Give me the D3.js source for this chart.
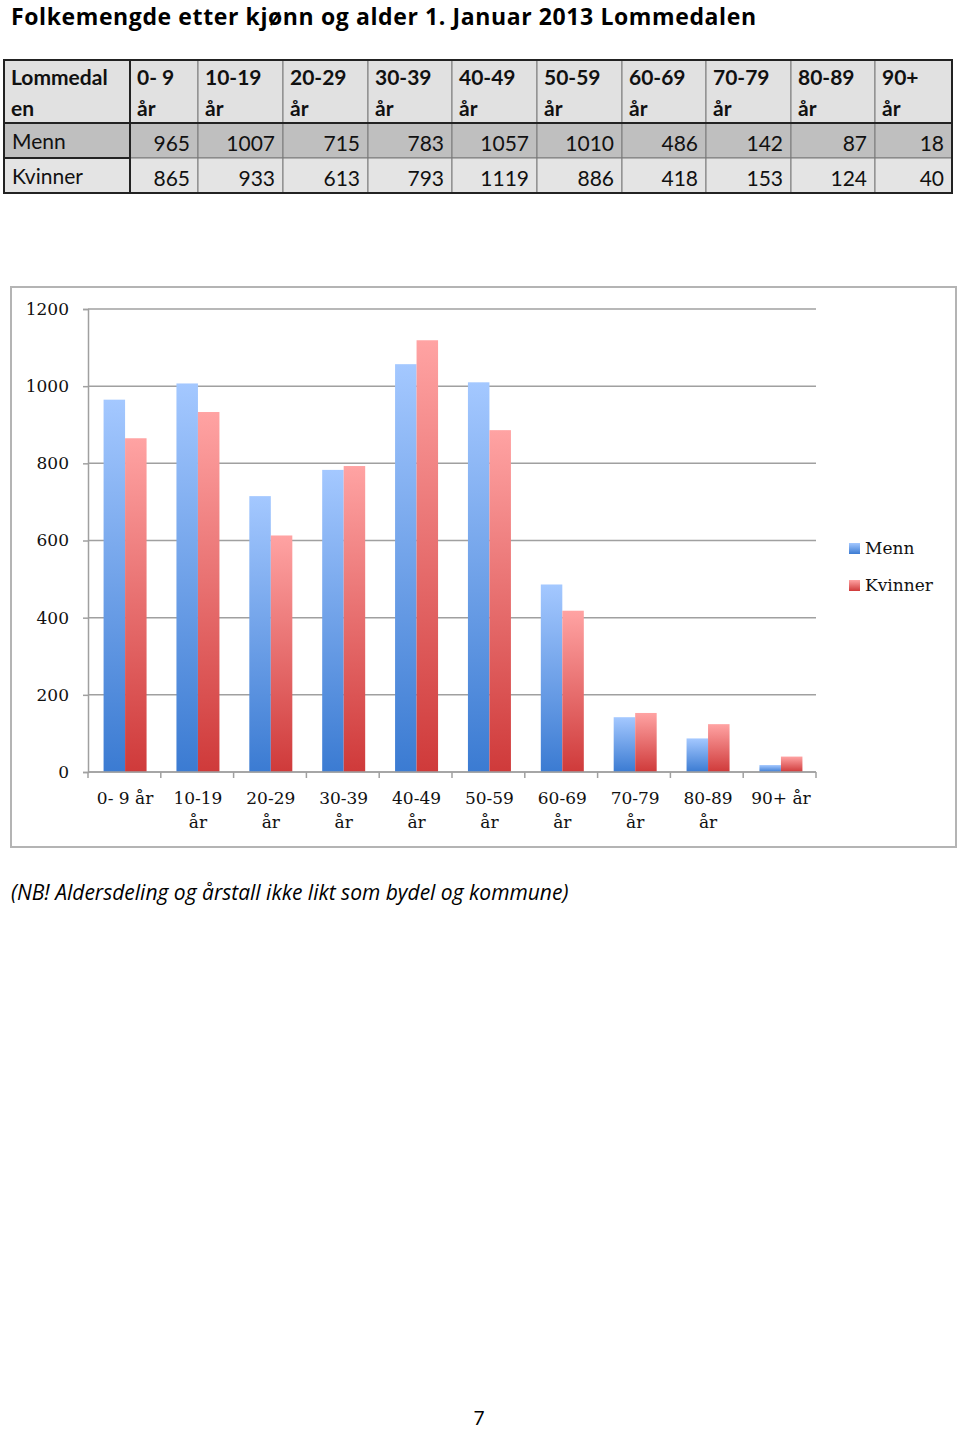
<!DOCTYPE html>
<html>
<head>
<meta charset="utf-8">
<title>Folkemengde Lommedalen</title>
<script src="https://cdnjs.cloudflare.com/ajax/libs/d3/7.8.5/d3.min.js"></script>
<style>
  body { margin: 0; background: #fff; }
  svg { display: block; }
</style>
</head>
<body>
<div id="chart"></div>
<script>
// data
const categories = ["0- 9 år", "10-19 år", "20-29 år", "30-39 år", "40-49 år", "50-59 år", "60-69 år", "70-79 år", "80-89 år", "90+ år"];
const xLabels = [["0- 9 år"], ["10-19", "år"], ["20-29", "år"], ["30-39", "år"], ["40-49", "år"], ["50-59", "år"], ["60-69", "år"], ["70-79", "år"], ["80-89", "år"], ["90+   år"]];
const headLabels = [["Lommedal", "en"], ["0- 9", "år"], ["10-19", "år"], ["20-29", "år"], ["30-39", "år"], ["40-49", "år"], ["50-59", "år"], ["60-69", "år"], ["70-79", "år"], ["80-89", "år"], ["90+", "år"]];
const menn = [965, 1007, 715, 783, 1057, 1010, 486, 142, 87, 18];
const kvinner = [865, 933, 613, 793, 1119, 886, 418, 153, 124, 40];
const yTicks = [0, 200, 400, 600, 800, 1000, 1200];
const seriesNames = ["Menn", "Kvinner"];

const W = 960, H = 1430;
const svg = d3.select("#chart").append("svg").attr("width", W).attr("height", H);
const sans = "Lato, 'Open Sans', sans-serif";
const wide = "'Open Sans', Lato, sans-serif";
const serif = "'DejaVu Serif', serif";

// title
svg.append("text").attr("x", 11).attr("y", 25)
  .attr("textLength", 745).attr("lengthAdjust", "spacing")
  .style("font-family", wide).style("font-size", "23px").style("font-weight", "bold")
  .text("Folkemengde etter kjønn og alder 1. Januar 2013 Lommedalen");

// ---- table ----
const colEdges = [4, 130, 198, 283, 368, 452, 537, 622, 706, 791, 875, 952];
const rowEdges = [60, 123, 158, 193];
const tbl = svg.append("g");
const rows = [
  { bg: "#e1e1e1", cells: headLabels, head: true },
  { bg: "#bfbfbf", cells: [["Menn"]].concat(menn.map(v => [String(v)])) },
  { bg: "#e4e4e4", cells: [["Kvinner"]].concat(kvinner.map(v => [String(v)])) }
];
rows.forEach((r, ri) => {
  const y0 = rowEdges[ri], y1 = rowEdges[ri + 1];
  r.cells.forEach((c, ci) => {
    const x0 = colEdges[ci], x1 = colEdges[ci + 1];
    tbl.append("rect").attr("x", x0).attr("y", y0).attr("width", x1 - x0).attr("height", y1 - y0)
      .attr("fill", r.bg).attr("stroke", "#7a7a7a").attr("stroke-width", 1);
    const t = tbl.append("text").style("font-family", sans).style("font-size", "21px")
      .style("font-weight", r.head ? "bold" : "normal").attr("fill", "#111");
    if (r.head) {
      c.forEach((line, li) => t.append("tspan").attr("x", x0 + 7).attr("y", y0 + 25 + li * 31).text(line));
    } else if (ci === 0) {
      t.attr("x", x0 + 8).attr("y", y0 + 26).text(c[0]);
    } else {
      t.attr("x", x1 - 8).attr("y", y0 + 28).attr("text-anchor", "end").text(c[0]);
    }
  });
});
// heavier borders
tbl.append("rect").attr("x", 4).attr("y", 60).attr("width", 948).attr("height", 133)
  .attr("fill", "none").attr("stroke", "#222").attr("stroke-width", 2);
tbl.append("rect").attr("x", 4).attr("y", 60).attr("width", 126).attr("height", 133)
  .attr("fill", "none").attr("stroke", "#222").attr("stroke-width", 2);
tbl.append("line").attr("x1", 4).attr("x2", 952).attr("y1", 123).attr("y2", 123)
  .attr("stroke", "#222").attr("stroke-width", 2);
tbl.append("line").attr("x1", 4).attr("x2", 130).attr("y1", 158).attr("y2", 158)
  .attr("stroke", "#222").attr("stroke-width", 2);

// ---- chart ----
svg.append("rect").attr("x", 11).attr("y", 287).attr("width", 945).attr("height", 560)
  .attr("fill", "#fff").attr("stroke", "#b4b4b4").attr("stroke-width", 2);

const defs = svg.append("defs");
const grads = [["gBlue", "#a4c8ff", "#3b7bd2"], ["gRed", "#ffa3a3", "#cf3a3a"]];
grads.forEach(([id, top, bot]) => {
  const g = defs.append("linearGradient").attr("id", id).attr("x1", 0).attr("y1", 0).attr("x2", 0).attr("y2", 1);
  g.append("stop").attr("offset", "0%").attr("stop-color", top);
  g.append("stop").attr("offset", "100%").attr("stop-color", bot);
});

const x = d3.scaleBand().domain(categories).range([88, 816]).paddingInner(0.41).paddingOuter(0.2);
const x1 = d3.scaleBand().domain(seriesNames).range([0, x.bandwidth()]);
const y = d3.scaleLinear().domain([0, 1200]).range([772, 309]);

const chart = svg.append("g");
chart.selectAll("line.grid").data(yTicks).join("line").attr("class", "grid")
  .attr("x1", 88).attr("x2", 816).attr("y1", d => y(d)).attr("y2", d => y(d))
  .attr("stroke", "#a0a0a0").attr("stroke-width", 1.5);

const groups = chart.selectAll("g.cat").data(categories).join("g").attr("class", "cat")
  .attr("transform", d => `translate(${x(d) + 1},0)`);
groups.append("rect").attr("x", x1("Menn")).attr("width", x1.bandwidth())
  .attr("y", (d, i) => y(menn[i])).attr("height", (d, i) => y(0) - y(menn[i]))
  .attr("fill", "url(#gBlue)");
groups.append("rect").attr("x", x1("Kvinner")).attr("width", x1.bandwidth())
  .attr("y", (d, i) => y(kvinner[i])).attr("height", (d, i) => y(0) - y(kvinner[i]))
  .attr("fill", "url(#gRed)");

// y axis
const yAxis = chart.append("g").attr("transform", "translate(88,0)")
  .call(d3.axisLeft(y).tickValues(yTicks).tickSize(5).tickPadding(14).tickFormat(d3.format("d")));
yAxis.select(".domain").attr("stroke", "#a0a0a0").attr("stroke-width", 1.5);
yAxis.selectAll(".tick line").attr("stroke", "#a0a0a0").attr("stroke-width", 1.5);
yAxis.selectAll("text").style("font-family", serif).style("font-size", "17px").attr("fill", "#111");

// x axis
const xTickPos = d3.range(categories.length + 1).map(i => 88 + i * (728 / categories.length));
chart.append("line").attr("x1", 88).attr("x2", 816).attr("y1", 772).attr("y2", 772)
  .attr("stroke", "#a0a0a0").attr("stroke-width", 1.5);
chart.selectAll("line.xt").data(xTickPos).join("line").attr("class", "xt")
  .attr("x1", d => d).attr("x2", d => d).attr("y1", 772).attr("y2", 778)
  .attr("stroke", "#a0a0a0").attr("stroke-width", 1.5);
const xl = chart.selectAll("text.xl").data(categories).join("text").attr("class", "xl")
  .attr("text-anchor", "middle").style("font-family", serif).style("font-size", "17px").attr("fill", "#111");
xl.each(function(d, i) {
  const cx = x(d) + x.bandwidth() / 2 + 1;
  xLabels[i].forEach((line, li) => {
    d3.select(this).append("tspan").attr("x", cx).attr("y", 804 + li * 24).text(line);
  });
});

// legend
const leg = chart.selectAll("g.leg").data(seriesNames).join("g").attr("class", "leg")
  .attr("transform", (d, i) => `translate(849,${543 + i * 37})`);
leg.append("rect").attr("width", 11).attr("height", 11).attr("fill", (d, i) => i ? "url(#gRed)" : "url(#gBlue)");
leg.append("text").attr("x", 16).attr("y", 11).style("font-family", serif).style("font-size", "17px")
  .attr("fill", "#111").text(d => d);

// note
svg.append("text").attr("x", 11).attr("y", 900)
  .style("font-family", wide).style("font-size", "21px").style("font-style", "italic")
  .text("(NB! Aldersdeling og årstall ikke likt som bydel og kommune)");

// page number
svg.append("text").attr("x", 479).attr("y", 1425).attr("text-anchor", "middle")
  .style("font-family", sans).style("font-size", "19px").text("7");
</script>
</body>
</html>
